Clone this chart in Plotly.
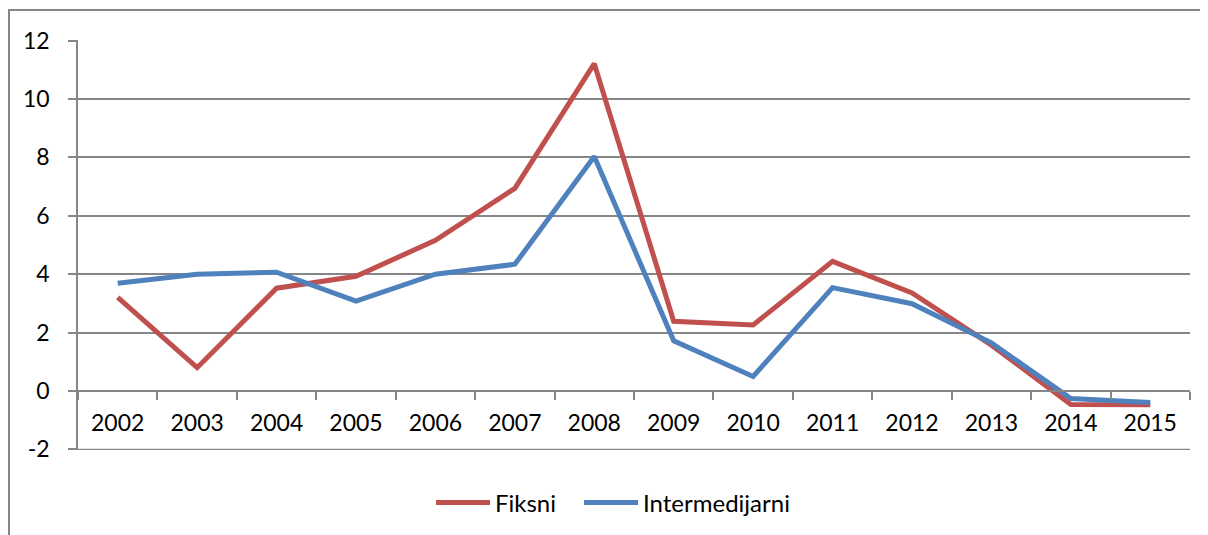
import plotly.graph_objects as go

years = ["2002", "2003", "2004", "2005", "2006", "2007", "2008",
         "2009", "2010", "2011", "2012", "2013", "2014", "2015"]
fiksni = [3.21, 0.80, 3.52, 3.93, 5.16, 6.94, 11.21, 2.39, 2.26, 4.44, 3.36, 1.57, -0.46, -0.47]
intermedijarni = [3.69, 4.00, 4.07, 3.08, 4.00, 4.34, 8.03, 1.72, 0.50, 3.54, 2.99, 1.65, -0.26, -0.39]
y_ticks = [-2, 0, 2, 4, 6, 8, 10, 12]
y_labels = ["-2", "0", "2", "4", "6", "8", "10", "12"]

FONT = "Lato, Carlito, Calibri, 'Open Sans', sans-serif"
GRID = "#868686"

fig = go.Figure()
fig.add_trace(go.Scatter(x=years, y=fiksni, name="Fiksni", mode="lines",
                         line=dict(color="#C0504D", width=5), legend="legend"))
fig.add_trace(go.Scatter(x=years, y=intermedijarni, name="Intermedijarni", mode="lines",
                         line=dict(color="#4F81BD", width=5), legend="legend2"))

# page body has an 8px margin, so the figure is drawn 8px right/down
OFF = 8
W, H = 1208 - OFF, 535 - OFF
L, R, T, B = 78 - OFF, 18, 40 - OFF, 85
pw, ph = W - L - R, H - T - B
ylo, yhi = -2.02, 12.02
zero_frac = (0 - ylo) / (yhi - ylo)
leg_y = (H - B - (503 - OFF)) / ph

fig.update_layout(
    width=W, height=H,
    margin=dict(l=L, r=R, t=T, b=B, autoexpand=False),
    paper_bgcolor="white", plot_bgcolor="white",
    font=dict(family=FONT, size=23, color="black"),
    showlegend=True,
    legend=dict(orientation="h", x=(431 - 78) / pw, xanchor="left",
                y=leg_y, yanchor="middle", font=dict(size=24), itemwidth=54),
    legend2=dict(orientation="h", x=(579 - 78) / pw, xanchor="left",
                 y=leg_y, yanchor="middle", font=dict(size=24), itemwidth=54),
    xaxis=dict(type="category", range=[-0.5, len(years) - 0.5],
               anchor="free", position=zero_frac, automargin=False,
               showline=True, linecolor=GRID, linewidth=1.5,
               ticks="outside", ticklen=8, tickcolor=GRID, tickwidth=1.5,
               tickson="boundaries", showgrid=False,
               ticklabelstandoff=12, tickfont=dict(size=23)),
    yaxis=dict(range=[ylo, yhi], tickvals=y_ticks, ticktext=y_labels, automargin=False,
               showgrid=True, gridcolor=GRID, gridwidth=1.5,
               showline=True, linecolor=GRID, linewidth=1.5,
               ticks="outside", ticklen=8, tickcolor=GRID, tickwidth=1.5,
               zeroline=True, zerolinecolor=GRID, zerolinewidth=1.5,
               ticklabelstandoff=14, tickfont=dict(size=23)),
)

# bottom gridline at -2 (hidden by plotly at the plot edge)
fig.add_shape(type="line", xref="paper", yref="y", x0=0, x1=1, y0=-2, y1=-2,
              line=dict(color=GRID, width=1.5), layer="below")

# outer chart frame
fig.add_shape(type="rect", xref="paper", yref="paper",
              x0=(9 - OFF - L) / pw, x1=(1240 - OFF - L) / pw,
              y0=(H - B - 580) / ph, y1=(H - B - (10 - OFF)) / ph,
              line=dict(color=GRID, width=2), layer="below")

fig.write_html("out.html")
